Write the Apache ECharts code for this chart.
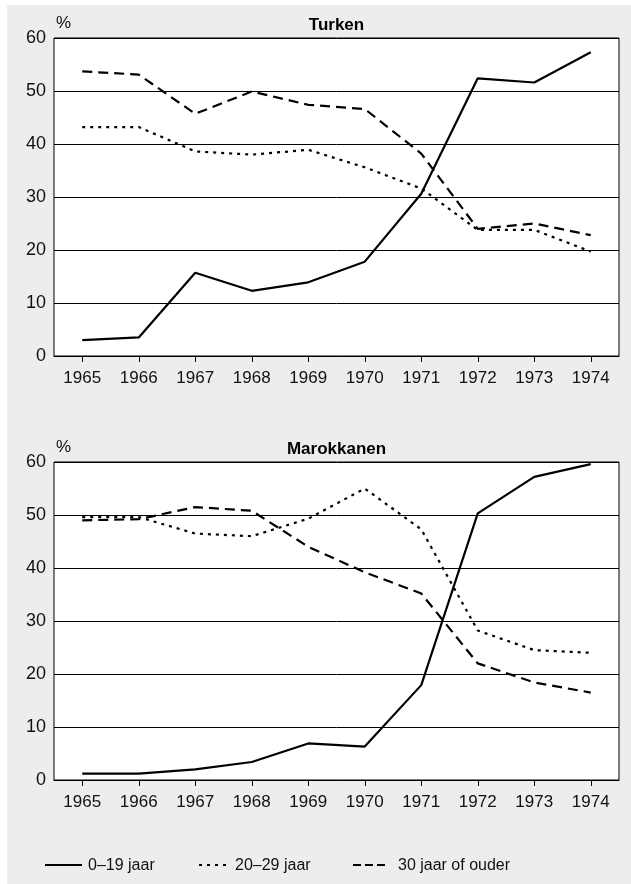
<!DOCTYPE html>
<html>
<head>
<meta charset="utf-8">
<script src="https://cdn.jsdelivr.net/npm/echarts@6/dist/echarts.min.js"></script>
<style>
html,body{margin:0;padding:0;background:#fff;}
#bg{position:absolute;left:7px;top:5px;width:624px;height:879px;background:#ECEDEC;}
#main{position:absolute;left:0;top:0;width:631px;height:884px;}
</style>
</head>
<body>
<div id="bg"></div>
<div id="main"></div>
<script>
const years = ['1965','1966','1967','1968','1969','1970','1971','1972','1973','1974'];
const yTicks = [0, 10, 20, 30, 40, 50, 60];
const seriesNames = ['0–19 jaar', '20–29 jaar', '30 jaar of ouder'];
const panelTitles = ['Turken', 'Marokkanen'];

const turken019 = [3.0, 3.5, 15.7, 12.3, 13.9, 17.8, 30.6, 52.4, 51.6, 57.3];
const turken2029 = [43.2, 43.2, 38.6, 38.0, 38.9, 35.6, 31.6, 23.8, 23.8, 19.7];
const turken30 = [53.7, 53.1, 45.7, 49.9, 47.4, 46.6, 38.2, 24.0, 25.0, 22.8];

const marok019 = [1.2, 1.2, 2.0, 3.4, 6.9, 6.3, 17.9, 50.3, 57.2, 59.6];
const marok2029 = [49.6, 49.6, 46.5, 46.0, 49.3, 55.0, 47.3, 28.2, 24.5, 24.0];
const marok30 = [49.0, 49.2, 51.5, 50.8, 44.0, 39.2, 35.2, 22.0, 18.4, 16.5];

const FONT = '"Liberation Sans", Arial, sans-serif';
const styles = [
  {type: 'solid', width: 2.2},
  {type: [3, 5], width: 2.2},
  {type: [10, 6], width: 2.2}
];
const legendDash = [null, [3, 5], [8, 4]];
const chart = echarts.init(document.getElementById('main'), null, {renderer: 'canvas'});

const grids = [
  {left: 54, right: 12, top: 38, height: 318},
  {left: 54, right: 12, top: 462, height: 318}
].map(g => Object.assign(g, {show: true, backgroundColor: '#fff', borderColor: '#000', borderWidth: 1, containLabel: false}));

const xAxes = [0, 1].map(i => ({
  type: 'category', gridIndex: i, data: years, boundaryGap: true,
  axisLine: {show: true, lineStyle: {color: '#000', width: 1}},
  axisTick: {show: true, alignWithLabel: true, length: 6, lineStyle: {color: '#000'}},
  axisLabel: {fontSize: 17, color: '#111', fontFamily: FONT, margin: 14, interval: 0},
  splitLine: {show: false}
}));
const yAxes = [0, 1].map(i => ({
  type: 'value', gridIndex: i, min: yTicks[0], max: yTicks[yTicks.length - 1], interval: 10,
  axisLine: {show: false}, axisTick: {show: false},
  axisLabel: {fontSize: 18, color: '#111', fontFamily: FONT, margin: 8},
  splitLine: {show: true, lineStyle: {color: '#000', width: 1}}
}));

const data = [[turken019, turken2029, turken30], [marok019, marok2029, marok30]];
const series = [];
data.forEach((panel, p) => {
  panel.forEach((vals, k) => {
    series.push({
      name: seriesNames[k], type: 'line', xAxisIndex: p, yAxisIndex: p,
      data: vals, symbol: 'none', silent: true, animation: false,
      lineStyle: Object.assign({color: '#000'}, styles[k]),
      itemStyle: {color: '#000'}
    });
  });
});

const graphics = [];
[38, 462].forEach((top, i) => {
  graphics.push({type: 'text', left: 56, top: top - 23,
    style: {text: '%', font: '17px ' + FONT, fill: '#111'}});
  graphics.push({type: 'text', x: 336.5, y: top - 13,
    style: {text: panelTitles[i], font: 'bold 17px ' + FONT, fill: '#000', textAlign: 'center', textVerticalAlign: 'middle'}});
});
// legend drawn as graphic keys
const legendKeys = [
  {x1: 45, x2: 82, tx: 88},
  {x1: 199, x2: 228, tx: 235},
  {x1: 353, x2: 385, tx: 398}
];
legendKeys.forEach((k, i) => {
  graphics.push({type: 'line', shape: {x1: k.x1, y1: 865, x2: k.x2, y2: 865},
    style: {stroke: '#000', lineWidth: 2.2, lineDash: legendDash[i]}});
  graphics.push({type: 'text', x: k.tx, y: 866,
    style: {text: seriesNames[i], font: '16px ' + FONT, fill: '#111', textVerticalAlign: 'middle'}});
});

chart.setOption({
  backgroundColor: 'transparent',
  animation: false,
  grid: grids,
  xAxis: xAxes,
  yAxis: yAxes,
  series: series,
  graphic: graphics
});
</script>
</body>
</html>
